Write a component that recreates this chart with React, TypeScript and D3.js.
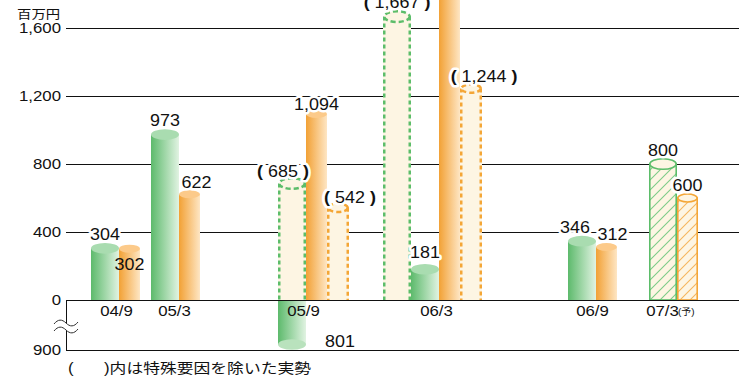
import React from "react";
import * as d3 from "d3";

const categories = ["04/9", "05/3", "05/9", "06/3", "06/9", "07/3"];
const actualGreen: (number | null)[] = [304, 973, -801, 181, 346, null];
const actualOrange: (number | null)[] = [302, 622, 1094, 2100, 312, null];
const adjustedGreen: (number | null)[] = [null, null, 685, 1667, null, null];
const adjustedOrange: (number | null)[] = [null, null, 542, 1244, null, null];
const forecastGreen: (number | null)[] = [null, null, null, null, null, 800];
const forecastOrange: (number | null)[] = [null, null, null, null, null, 600];
const yTicks = [0, 400, 800, 1200, 1600];
const negTick = 900;
const unitLabel = "百万円";
const noteText = ")内は特殊要因を除いた実勢";
const forecastMark = "(予)";

const W = 739;
const H = 386;
const left = 66;
const zeroY = 300;
const yPos = d3.scaleLinear().domain([0, 1600]).range([zeroY, 28]);
const yNeg = d3.scaleLinear().domain([0, negTick]).range([zeroY, 350]);
const groupX = d3.scaleOrdinal<string, number>().domain(categories).range([91, 151, 278, 383, 568, 649]);
const fmt = d3.format(",");

const labelAdj: Record<string, [number, number]> = {
  "o-04/9": [0, 28],
  "o-05/3": [7, 1],
  "ag-05/9": [-9, 2],
  "o-05/9": [0, 3],
  "ao-05/9": [12, 2],
  "ao-06/3": [13, 1],
  "g-06/3": [0, -3],
  "g-06/9": [-7, 0],
  "o-06/9": [6, 0],
  "o-07/3": [6, 0],
};

type Bar = { key: string; cat: string; kind: "solid" | "dashed" | "hatch"; color: "g" | "o"; v: number; x: number; w: number; paren: boolean; halo: boolean };

const bars: Bar[] = [];
categories.forEach((cat, i) => {
  let x = groupX(cat);
  let adjGX: number | null = null;
  if (adjustedGreen[i] != null) {
    bars.push({ key: "ag-" + cat, cat, kind: "dashed", color: "g", v: adjustedGreen[i]!, x, w: 28, paren: true, halo: true });
    adjGX = x;
    x += 28;
  }
  if (actualGreen[i] != null) {
    const v = actualGreen[i]!;
    if (v < 0 && adjGX != null) {
      bars.push({ key: "g-" + cat, cat, kind: "solid", color: "g", v, x: adjGX, w: 28, paren: false, halo: false });
    } else {
      bars.push({ key: "g-" + cat, cat, kind: "solid", color: "g", v, x, w: 28, paren: false, halo: true });
      x += 28;
    }
  }
  if (forecastGreen[i] != null) {
    bars.push({ key: "fg-" + cat, cat, kind: "hatch", color: "g", v: forecastGreen[i]!, x, w: 28, paren: false, halo: true });
    x += 28;
  }
  if (actualOrange[i] != null) {
    bars.push({ key: "o-" + cat, cat, kind: "solid", color: "o", v: actualOrange[i]!, x, w: 21, paren: false, halo: cat !== "04/9" });
    x += 21;
  }
  if (forecastOrange[i] != null) {
    bars.push({ key: "fo-" + cat, cat, kind: "hatch", color: "o", v: forecastOrange[i]!, x, w: 21, paren: false, halo: true });
    x += 21;
  }
  if (adjustedOrange[i] != null) {
    bars.push({ key: "ao-" + cat, cat, kind: "dashed", color: "o", v: adjustedOrange[i]!, x, w: 22, paren: true, halo: true });
    x += 22;
  }
});

const catCenter: Record<string, number> = {};
categories.forEach((cat) => {
  const bs = bars.filter((b) => b.cat === cat);
  const x0 = d3.min(bs, (b) => b.x)!;
  const x1 = d3.max(bs, (b) => b.x + b.w)!;
  catCenter[cat] = (x0 + x1) / 2;
});
const catAdj: Record<string, number> = { "04/9": 1, "05/3": -1, "05/9": -10, "06/3": 4, "06/9": 0, "07/3": -11 };

const FONT = "'Liberation Sans', Arial, 'Noto Sans CJK JP', sans-serif";
const SX = 1.2;

function T({ x, y, size, anchor = "start", children, halo = false, sx = SX, weight }: any) {
  return (
    <text
      transform={`translate(${x},${y}) scale(${sx},1)`}
      fontSize={size}
      fontFamily={FONT}
      textAnchor={anchor}
      fill="#111"
      fontWeight={weight}
      stroke={halo ? "#fff" : undefined}
      strokeWidth={halo ? 5 : undefined}
      paintOrder="stroke"
      strokeLinejoin="round"
    >
      {children}
    </text>
  );
}

const colors = {
  g: { dark: "#5dba6c", light: "#e1f3e2", top: "#a9dcb0", line: "#5cbd6a", hatch: "#7ecb88", bottom: "#b9e2bd" },
  o: { dark: "#f2a135", light: "#fee6c4", top: "#fcca8a", line: "#f4a636", hatch: "#f5b65e", bottom: "#fcd7a5" },
};
const cream = "#fdf5e3";

function Cylinder({ b }: { b: Bar }) {
  const c = colors[b.color];
  const ry = b.w * 0.19;
  const cx = b.x + b.w / 2;
  if (b.v < 0) {
    const yb = yNeg(-b.v);
    return (
      <g>
        <rect x={b.x} y={zeroY} width={b.w} height={yb - zeroY} fill={`url(#grad-${b.color})`} />
        <ellipse cx={cx} cy={yb} rx={b.w / 2} ry={ry} fill={c.bottom} />
      </g>
    );
  }
  const yt = yPos(b.v);
  if (b.kind === "solid") {
    return (
      <g>
        <rect x={b.x} y={yt} width={b.w} height={zeroY - yt} fill={`url(#grad-${b.color})`} />
        <ellipse cx={cx} cy={yt} rx={b.w / 2} ry={ry} fill={c.top} />
      </g>
    );
  }
  if (b.kind === "dashed") {
    const sw = 2.5;
    const xl = b.x + sw / 2;
    const xr = b.x + b.w - sw / 2;
    return (
      <g>
        <rect x={b.x} y={yt} width={b.w} height={zeroY - yt} fill={cream} />
        <line x1={xl} x2={xl} y1={yt} y2={zeroY} stroke={c.line} strokeWidth={sw} strokeDasharray="4 3" />
        <line x1={xr} x2={xr} y1={yt} y2={zeroY} stroke={c.line} strokeWidth={sw} strokeDasharray="4 3" />
        <ellipse cx={cx} cy={yt} rx={b.w / 2 - sw / 2} ry={ry} fill={cream} stroke={c.line} strokeWidth={sw} strokeDasharray="5 3" />
      </g>
    );
  }
  const sw = 1.6;
  return (
    <g>
      <rect x={b.x + sw / 2} y={yt} width={b.w - sw} height={zeroY - yt} fill={cream} />
      <rect x={b.x + sw / 2} y={yt} width={b.w - sw} height={zeroY - yt} fill={`url(#hatch-${b.color})`} stroke={c.line} strokeWidth={sw} />
      <ellipse cx={cx} cy={yt} rx={b.w / 2 - sw / 2} ry={ry} fill={cream} stroke={c.line} strokeWidth={sw} />
    </g>
  );
}

function Label({ b }: { b: Bar }) {
  const [dx, dy] = labelAdj[b.key] || [0, 0];
  const ry = b.w * 0.19;
  const cx = b.x + b.w / 2;
  let x = cx + dx;
  let y: number;
  if (b.v < 0) {
    x = cx + 48;
    y = yNeg(-b.v) + 2.5;
  } else {
    y = yPos(b.v) - ry - 3 + dy;
  }
  const txt = fmt(Math.abs(b.v));
  if (b.paren) {
    return (
      <T x={x} y={y} size={16} anchor="middle" halo={b.halo} sx={1.12}>
        <tspan fontWeight="bold">(</tspan>
        {" " + txt + " "}
        <tspan fontWeight="bold">)</tspan>
      </T>
    );
  }
  return (
    <T x={x} y={y} size={16} anchor="middle" halo={b.halo} sx={1.12}>
      {txt}
    </T>
  );
}

const snap = (v: number) => Math.round(v) + 0.5;

export default function App() {
  return (
    <svg width={W} height={H} style={{ position: "absolute", left: 0, top: 0, background: "#fff" }}>
      <defs>
        {(["g", "o"] as const).map((k) => (
          <linearGradient key={k} id={`grad-${k}`} x1="0" x2="1" y1="0" y2="0">
            <stop offset="0" stopColor={colors[k].dark} />
            <stop offset="1" stopColor={colors[k].light} />
          </linearGradient>
        ))}
        {(["g", "o"] as const).map((k) => (
          <pattern key={k} id={`hatch-${k}`} patternUnits="userSpaceOnUse" width={10} height={10}>
            <path d="M-2,12 L12,-2 M-2,2 L2,-2 M8,12 L12,8" stroke={colors[k].hatch} strokeWidth={1.1} />
          </pattern>
        ))}
      </defs>
      <rect width={W} height={H} fill="#fff" />
      {/* gridlines */}
      {yTicks.filter((t) => t > 0).map((t) => (
        <line key={t} x1={left} x2={W} y1={snap(yPos(t))} y2={snap(yPos(t))} stroke="#111" strokeWidth={1} />
      ))}
      {/* bars */}
      {bars.map((b) => (
        <Cylinder key={b.key} b={b} />
      ))}
      {/* axis frame */}
      <line x1={left} x2={W} y1={snap(zeroY)} y2={snap(zeroY)} stroke="#111" strokeWidth={1} />
      <line x1={left} x2={W} y1={snap(yNeg(negTick))} y2={snap(yNeg(negTick))} stroke="#111" strokeWidth={1} />
      <line x1={snap(left)} x2={snap(left)} y1={zeroY} y2={yNeg(negTick)} stroke="#111" strokeWidth={1} />
      <rect x={left - 3} y={323.5} width={6} height={7} fill="#fff" />
      <path d="M54,324 C58,319 62,319 66,323 C70,327 74,327 78,322" fill="none" stroke="#333" strokeWidth={1} />
      <path d="M54,331 C58,326 62,326 66,330 C70,334 74,334 78,329" fill="none" stroke="#333" strokeWidth={1} />
      {/* labels */}
      {bars.map((b) => (
        <Label key={"l" + b.key} b={b} />
      ))}
      {/* y tick labels */}
      {yTicks.map((t) => (
        <T key={t} x={61} y={yPos(t) + 5} size={14} anchor="end">
          {fmt(t)}
        </T>
      ))}
      <T x={61} y={yNeg(negTick) + 5} size={14} anchor="end">
        {fmt(negTick)}
      </T>
      <T x={17} y={19} size={12}>
        {unitLabel}
      </T>
      {/* category labels */}
      {categories.map((c) => (
        <T key={c} x={catCenter[c] + catAdj[c]} y={316} size={14} anchor="middle">
          {c}
        </T>
      ))}
      <T x={678} y={315} size={9} sx={1.1}>
        {forecastMark}
      </T>
      {/* note */}
      <T x={68} y={373} size={14}>
        (
      </T>
      <T x={104} y={373} size={14}>
        {noteText}
      </T>
    </svg>
  );
}
